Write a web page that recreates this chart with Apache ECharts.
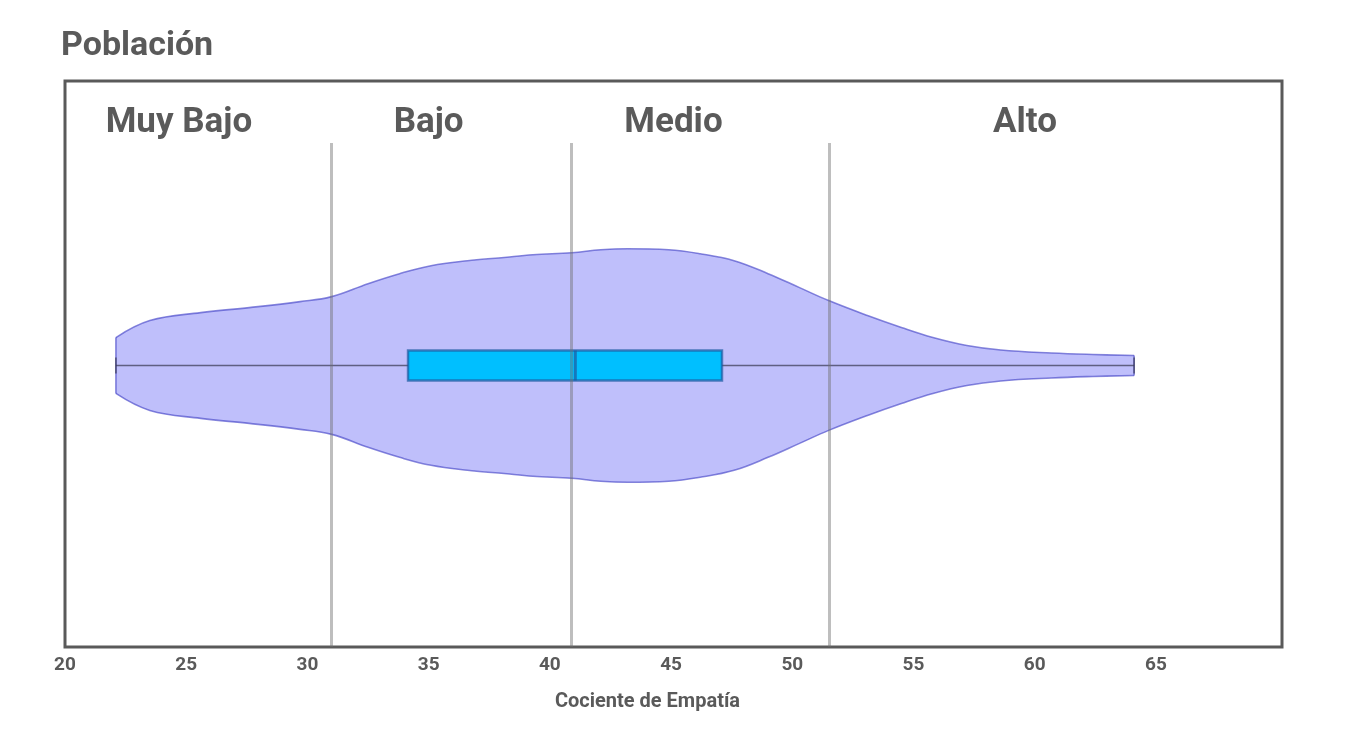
<!DOCTYPE html>
<html>
<head>
    <meta charset="UTF-8">
    <title>Población</title>
    <script src="https://cdn.jsdelivr.net/npm/echarts@6/dist/echarts.min.js"></script>
</head>
<body style="margin:0;background:#fff;">
    <div id="main" style="width:1347px;height:738px;"></div>
    <script type="text/javascript">
        var myChart = echarts.init(document.getElementById('main'));

        // violin outline: score and half width (density, arbitrary units)
        var violinX = [22.1, 23.5, 25.6, 27.6, 29.7, 31.0, 32.5, 33.8, 35.1, 36.6, 38.0, 39.3, 40.9, 42.1, 43.2,
                       44.9, 46.2, 47.6, 49.0, 50.3, 51.5, 53.1, 54.5, 55.8, 57.2, 58.6, 60.7, 62.4, 64.1];
        var violinHalf = [0.28, 0.45, 0.53, 0.58, 0.64, 0.69, 0.82, 0.92, 1.00, 1.05, 1.08, 1.11, 1.13, 1.16, 1.17,
                          1.16, 1.12, 1.05, 0.92, 0.78, 0.65, 0.50, 0.38, 0.28, 0.20, 0.155, 0.125, 0.11, 0.10];

        // min, Q1, mediana, Q3, max
        var boxStats = [22.1, 34.15, 41.05, 47.1, 64.1];

        // cortes entre niveles
        var cutPoints = [30.98, 40.9, 51.54];
        var levelNames = ['Muy Bajo', 'Bajo', 'Medio', 'Alto'];
        var levelPos = [24.7, 35.0, 45.1, 59.6];

        var xTicks = [20, 25, 30, 35, 40, 45, 50, 55, 60, 65];

        var grey = '#5a5a5a';
        var violinFill = 'rgba(128,128,248,0.5)';
        var violinEdge = 'rgba(70,70,200,0.65)';

        var upper = violinX.map(function (x, i) { return [x, violinHalf[i]]; });
        var lower = violinX.map(function (x, i) { return [x, -violinHalf[i]]; });

        var option = {
            animation: false,
            title: {
                text: 'Población',
                left: 56,
                top: 24,
                textStyle: { fontFamily: 'Roboto', fontSize: 34, fontWeight: 'bold', color: grey }
            },
            grid: {
                left: 65, right: 65, top: 81, bottom: 91,
                show: true, borderColor: grey, borderWidth: 3
            },
            xAxis: {
                type: 'value',
                min: 20,
                max: 70.2,
                interval: 5,
                name: 'Cociente de Empatía',
                nameLocation: 'middle',
                nameGap: 45,
                nameTextStyle: {
                    fontFamily: 'Roboto', fontSize: 20, fontWeight: 'bold', color: grey,
                    letterSpacing: -0.8,
                    padding: [0, 52, 0, 0]
                },
                axisLine: { show: false },
                axisTick: { show: false },
                splitLine: { show: false },
                axisLabel: {
                    margin: 9,
                    fontFamily: 'Roboto', fontSize: 19, fontWeight: 'bold', color: grey,
                    letterSpacing: -0.5,
                    formatter: function (v) { return xTicks.indexOf(v) >= 0 ? String(v) : ''; }
                }
            },
            yAxis: {
                type: 'value',
                min: -2.82,
                max: 2.85,
                show: false
            },
            series: [
                {
                    // violin, upper half
                    type: 'line',
                    z: 1,
                    data: upper,
                    smooth: 0.4,
                    symbol: 'none',
                    silent: true,
                    lineStyle: { color: violinEdge, width: 1.6 },
                    areaStyle: { color: violinFill, opacity: 1 }
                },
                {
                    // violin, lower half
                    type: 'line',
                    z: 1,
                    data: lower,
                    smooth: 0.4,
                    symbol: 'none',
                    silent: true,
                    lineStyle: { color: violinEdge, width: 1.6 },
                    areaStyle: { color: violinFill, opacity: 1 }
                },
                {
                    // box plot + violin end edges
                    type: 'custom',
                    z: 2,
                    data: [boxStats],
                    renderItem: function (params, api) {
                        var mn = api.coord([api.value(0), 0]);
                        var q1 = api.coord([api.value(1), 0.15]);
                        var md = api.coord([api.value(2), 0.15]);
                        var q3 = api.coord([api.value(3), -0.15]);
                        var mx = api.coord([api.value(4), 0]);
                        var n = violinX.length - 1;
                        var e0a = api.coord([violinX[0], violinHalf[0]]);
                        var e0b = api.coord([violinX[0], -violinHalf[0]]);
                        var e1a = api.coord([violinX[n], violinHalf[n]]);
                        var e1b = api.coord([violinX[n], -violinHalf[n]]);
                        var lineStyle = { stroke: 'rgba(60,60,90,0.75)', lineWidth: 1.6 };
                        var edgeStyle = { stroke: violinEdge, lineWidth: 1.6 };
                        return {
                            type: 'group',
                            children: [
                                { type: 'line', shape: { x1: e0a[0], y1: e0a[1], x2: e0b[0], y2: e0b[1] }, style: edgeStyle },
                                { type: 'line', shape: { x1: e1a[0], y1: e1a[1], x2: e1b[0], y2: e1b[1] }, style: edgeStyle },
                                { type: 'line', shape: { x1: mn[0], y1: mn[1], x2: mx[0], y2: mx[1] }, style: lineStyle },
                                { type: 'line', shape: { x1: mn[0], y1: mn[1] - 8, x2: mn[0], y2: mn[1] + 8 }, style: lineStyle },
                                { type: 'line', shape: { x1: mx[0], y1: mx[1] - 8, x2: mx[0], y2: mx[1] + 8 }, style: lineStyle },
                                {
                                    type: 'rect',
                                    shape: { x: q1[0], y: q1[1], width: q3[0] - q1[0], height: q3[1] - q1[1] },
                                    style: { fill: '#00bfff', stroke: 'rgba(30,90,160,0.7)', lineWidth: 2.5 }
                                },
                                {
                                    type: 'line',
                                    shape: { x1: md[0], y1: q1[1], x2: md[0], y2: q3[1] },
                                    style: { stroke: 'rgba(30,90,160,0.7)', lineWidth: 3 }
                                }
                            ]
                        };
                    }
                },
                {
                    // level labels and cut lines
                    type: 'scatter',
                    z: 3,
                    symbolSize: 0,
                    silent: true,
                    itemStyle: { opacity: 1 },
                    data: levelPos.map(function (x) { return [x, 2.43]; }),
                    label: {
                        show: true,
                        position: 'inside',
                        fontFamily: 'Roboto',
                        fontSize: 35,
                        fontWeight: 'bold',
                        letterSpacing: -1.5,
                        color: grey,
                        opacity: 1,
                        formatter: function (p) { return levelNames[p.dataIndex]; }
                    },
                    markLine: {
                        silent: true,
                        symbol: 'none',
                        label: { show: false },
                        lineStyle: { color: 'rgba(110,110,110,0.45)', width: 3, type: 'solid', opacity: 1 },
                        data: cutPoints.map(function (c) {
                            return [{ coord: [c, -2.82] }, { coord: [c, 2.23] }];
                        })
                    }
                }
            ]
        };

        myChart.setOption(option);
    </script>
</body>
</html>
